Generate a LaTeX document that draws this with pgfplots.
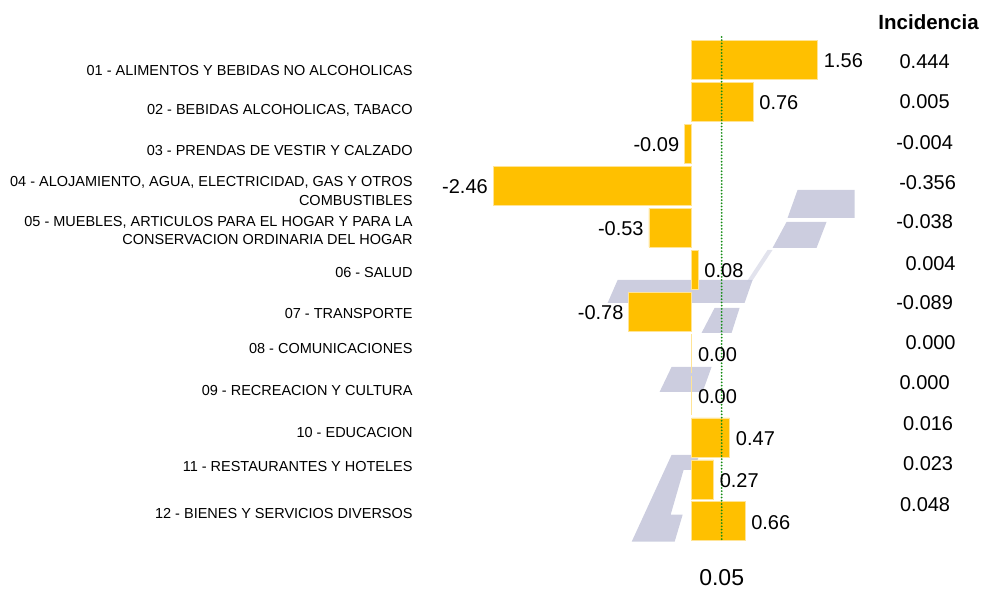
\documentclass[border=0pt]{standalone}
\usepackage{pgfplots}
\pgfplotsset{compat=1.18}
\usepackage{pgfplotstable}
\usepackage{fontspec}
\setmainfont{Liberation Sans}
\definecolor{baryellow}{RGB}{255,192,0}
\definecolor{baredge}{RGB}{255,228,150}
\definecolor{wm}{RGB}{198,200,220}
\definecolor{refgreen}{RGB}{20,140,20}

% positive and zero changes (labels to the right)
\pgfplotstableread{
y x lab
1 1.56 1.56
2 0.76 0.76
6 0.08 0.08
8 0.00 0.00
9 0.00 0.00
10 0.47 0.47
11 0.27 0.27
12 0.66 0.66
}\varpos

% negative changes (labels to the left)
\pgfplotstableread{
y x lab
3 -0.09 -0.09
4 -2.46 -2.46
5 -0.53 -0.53
7 -0.78 -0.78
}\varneg

\pgfplotstableread{
y x lab
1.048 2.884 0.444
2.001 2.884 0.005
2.979 2.884 -0.004
3.932 2.921 -0.356
4.862 2.884 -0.038
5.863 2.958 0.004
6.793 2.884 -0.089
7.746 2.958 0.000
8.700 2.884 0.000
9.677 2.927 0.016
10.631 2.927 0.023
11.608 2.890 0.048
}\incidencia

\begin{document}
\begin{tikzpicture}
\begin{scope}[x=1bp,y=-1bp,shift={(-482,-542.5)}]
\useasboundingbox (0,0) rectangle (982,587);
% watermark (background logo)
\begin{scope}[opacity=0.9]
\fill[wm] (798,190) -- (855,190) -- (855,218) -- (788,218) -- cycle;
\fill[wm] (787,222) -- (827,222) -- (817,248) -- (773,248) -- cycle;
\fill[wm,opacity=0.5] (768,250) -- (773,250) -- (752,282) -- (747,282) -- cycle;
\fill[wm] (618,280) -- (753,280) -- (745,303) -- (608,303) -- cycle;
\fill[wm] (715,308) -- (740,308) -- (732,333) -- (702,333) -- cycle;
\fill[wm] (672,367) -- (712,367) -- (703,392) -- (660,392) -- cycle;
\fill[wm] (672,455) -- (700,455) -- (694,470) -- (684,470) -- (671,515) -- (683,515) -- (675,542) -- (632,542) -- cycle;
\end{scope}
\end{scope}
\begin{axis}[
  at={(0,0)}, anchor=south west,
  scale only axis, width=371.68bp, height=503.4bp,
  xmin=-2.6, xmax=2.0, ymin=0.5, ymax=12.5,
  y dir=reverse,
  clip=false,
  axis line style={draw=none},
  major tick length=0pt,
  xtick=\empty,
  ytick={1.238,2.192,3.169,4.123,5.064,6.077,7.055,7.889,8.890,9.891,10.702,11.823},
  yticklabels={
    {01 - ALIMENTOS Y BEBIDAS NO ALCOHOLICAS},
    {02 - BEBIDAS ALCOHOLICAS, TABACO},
    {03 - PRENDAS DE VESTIR Y CALZADO},
    {04 - ALOJAMIENTO, AGUA, ELECTRICIDAD, GAS Y OTROS\\COMBUSTIBLES},
    {05 - MUEBLES, ARTICULOS PARA EL HOGAR Y PARA LA\\CONSERVACION ORDINARIA DEL HOGAR},
    {06 - SALUD},
    {07 - TRANSPORTE},
    {08 - COMUNICACIONES},
    {09 - RECREACION Y CULTURA},
    {10 - EDUCACION},
    {11 - RESTAURANTES Y HOTELES},
    {12 - BIENES Y SERVICIOS DIVERSOS}},
  yticklabel style={align=right, anchor=east, inner sep=0pt, xshift=-69bp,
    font=\fontsize{14.5bp}{18.5bp}\selectfont},
  bar width=39bp,
]
\addplot[xbar, fill=baryellow, draw=baredge, line width=0.6bp, bar shift=0pt,
  nodes near coords, point meta=explicit symbolic,
  every node near coord/.append style={anchor=west, xshift=6bp, yshift=-1bp, inner sep=0pt,
    font=\fontsize{20bp}{24bp}\selectfont, text=black}]
  table[x=x,y=y,meta=lab]{\varpos};
\addplot[xbar, fill=baryellow, draw=baredge, line width=0.6bp, bar shift=0pt,
  nodes near coords, point meta=explicit symbolic,
  every node near coord/.append style={anchor=east, xshift=-5bp, yshift=-1bp, inner sep=0pt,
    font=\fontsize{20bp}{24bp}\selectfont, text=black}]
  table[x=x,y=y,meta=lab]{\varneg};
\addplot[draw=none, mark=none, nodes near coords, point meta=explicit symbolic,
  every node near coord/.append style={anchor=center, inner sep=0pt, font=\fontsize{20bp}{24bp}\selectfont, text=black}]
  table[x=x,y=y,meta=lab]{\incidencia};
\addplot[color=refgreen, solid, line width=2bp, line cap=round, dash pattern=on 0pt off 3.2bp, mark=none] coordinates {(0.371,0.45) (0.371,12.45)};
\node[font=\fontsize{23bp}{26bp}\selectfont] at (axis cs:0.371,13.35) {0.05};
\node[font=\bfseries\fontsize{20.5bp}{24bp}\selectfont] at (axis cs:2.933,0.094) {Incidencia};
\end{axis}
\end{tikzpicture}
\end{document}
